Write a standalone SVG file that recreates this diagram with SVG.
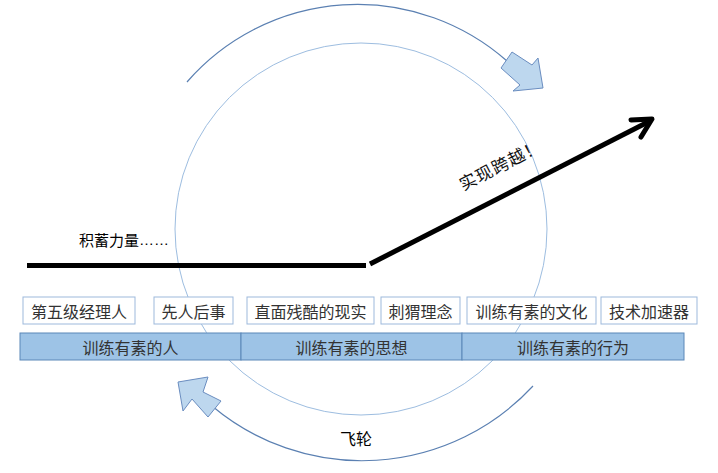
<svg xmlns="http://www.w3.org/2000/svg" width="718" height="473" viewBox="0 0 718 473">
<defs>
<style>
.t{font-family:"Noto Sans CJK SC","Liberation Sans",sans-serif;font-size:16px;fill:#333;text-anchor:middle;dominant-baseline:central}
.box{fill:#fff;stroke:#9DB9DC;stroke-width:1}
.band{fill:#9DC3E6;stroke:#5B87B8;stroke-width:1}
.arc{fill:none;stroke:#5B80B2;stroke-width:1.2}
.blk{fill:#BDD7EE;stroke:#6A8DC0;stroke-width:1}
.bold{fill:none;stroke:#000;stroke-width:5}
</style>
</defs>
<rect width="718" height="473" fill="#fff"/>
<g id="wheel">
<circle cx="361" cy="229" r="186" fill="none" stroke="#9DBDE0" stroke-width="1"/>
</g>
<g id="connectors">
<path class="arc" d="M187,82 A226,226 0 0 1 507,61"/>
<polygon class="blk" points="512,52 501,68 520,85 513,91 543,88 538,58 532,65"/>
<path class="arc" d="M533,386 A233,233 0 0 1 212,406"/>
<polygon class="blk" points="178,382 208,377 203,392 221,401 208,417 192,399 183,411"/>
<path class="bold" d="M27,265.5 H366"/>
<path class="bold" d="M370,264 L650,121"/>
<path d="M631,120 L652,119 L641,137" fill="none" stroke="#000" stroke-width="5" stroke-linecap="round" stroke-linejoin="round"/>
</g>
<g id="labels">
<text x="79" y="239" class="t" style="font-size:15px;fill:#000;text-anchor:start">积蓄力量<tspan style="font-family:'Liberation Sans',sans-serif">……</tspan></text>
<text class="t" style="font-size:17px;fill:#111;letter-spacing:1px" transform="translate(500,164) rotate(-27)">实现跨越！</text>
<text x="356" y="438" class="t" style="font-size:16px;fill:#000">飞轮</text>
</g>
<g id="n1"><rect class="box" x="23" y="297" width="112" height="27"/><text class="t" x="79" y="310.5">第五级经理人</text></g>
<g id="n2"><rect class="box" x="154" y="297" width="79" height="27"/><text class="t" x="193.5" y="310.5">先人后事</text></g>
<g id="n3"><rect class="box" x="247" y="297" width="127" height="27"/><text class="t" x="310.5" y="310.5">直面残酷的现实</text></g>
<g id="n4"><rect class="box" x="381" y="297" width="79" height="27"/><text class="t" x="420.5" y="310.5">刺猬理念</text></g>
<g id="n5"><rect class="box" x="467" y="297" width="129" height="27"/><text class="t" x="531.5" y="310.5">训练有素的文化</text></g>
<g id="n6"><rect class="box" x="601" y="297" width="96" height="27"/><text class="t" x="649" y="310.5">技术加速器</text></g>
<g id="b1"><rect class="band" x="20" y="333" width="221" height="27"/><text class="t" x="130.5" y="346.5">训练有素的人</text></g>
<g id="b2"><rect class="band" x="241" y="333" width="221" height="27"/><text class="t" x="351.5" y="346.5">训练有素的思想</text></g>
<g id="b3"><rect class="band" x="462" y="333" width="222" height="27"/><text class="t" x="573" y="346.5">训练有素的行为</text></g>
</svg>
